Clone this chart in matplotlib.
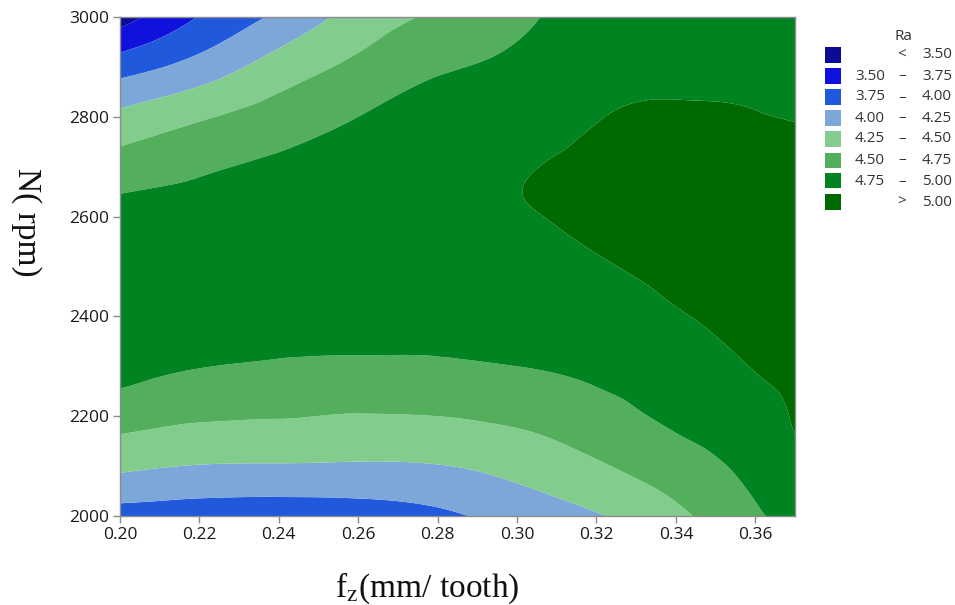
import numpy as np
import matplotlib
matplotlib.use("Agg")
import matplotlib.pyplot as plt
import matplotlib.tri as mtri
from matplotlib.patches import Rectangle

# feed per tooth (mm/tooth) and spindle speed (rpm)
fz = [0.20, 0.22, 0.24, 0.26, 0.28, 0.30, 0.32, 0.34, 0.36, 0.37]
rpm = [2000, 2100, 2200, 2300, 2400, 2500, 2600, 2700, 2800, 2900, 3000]

# surface roughness Ra, one row per rpm value
ra_2000 = [3.89, 3.86, 3.85, 3.88, 3.95, 4.09, 4.23, 4.44, 4.72, 4.82]
ra_2100 = [4.30, 4.24, 4.23, 4.22, 4.24, 4.33, 4.47, 4.64, 4.82, 4.94]
ra_2200 = [4.60, 4.53, 4.51, 4.49, 4.50, 4.55, 4.66, 4.79, 4.91, 5.02]
ra_2300 = [4.85, 4.76, 4.71, 4.69, 4.70, 4.75, 4.80, 4.88, 5.01, 5.05]
ra_2400 = [4.93, 4.94, 4.94, 4.93, 4.92, 4.89, 4.89, 4.98, 5.07, 5.10]
ra_2500 = [4.92, 4.93, 4.94, 4.94, 4.94, 4.94, 4.98, 5.06, 5.12, 5.14]
ra_2600 = [4.84, 4.87, 4.91, 4.94, 4.96, 4.985, 5.04, 5.10, 5.13, 5.14]
ra_2700 = [4.61, 4.71, 4.80, 4.88, 4.93, 4.98, 5.05, 5.09, 5.10, 5.10]
ra_2800 = [4.31, 4.47, 4.61, 4.75, 4.85, 4.88, 4.99, 5.03, 5.01, 4.99]
ra_2900 = [3.89, 4.10, 4.36, 4.56, 4.72, 4.80, 4.92, 4.94, 4.95, 4.95]
ra_3000 = [3.39, 3.76, 4.05, 4.35, 4.54, 4.70, 4.84, 4.85, 4.87, 4.88]

levels = [3.50, 3.75, 4.00, 4.25, 4.50, 4.75, 5.00]
colors = ["#0b0b96", "#1111dd", "#2159dd", "#7da7d9",
          "#82cc8e", "#53af5b", "#008321", "#006a00"]

W, H = 955, 605


def px(x, y):
    # pixel position -> figure fraction
    return x / W, 1 - y / H


def smooth_surface(x, y, z):
    # refine the grid on normalised coordinates so the bands come out smooth
    X, Y = np.meshgrid(x, y)
    u = (X - x[0]) / (x[-1] - x[0])
    v = (Y - y[0]) / (y[-1] - y[0])
    tri = mtri.Triangulation(u.ravel(), v.ravel())
    refiner = mtri.UniformTriRefiner(tri)
    interp = mtri.CubicTriInterpolator(tri, z.ravel(), kind="min_E")
    tri_f, z_f = refiner.refine_field(z.ravel(), triinterpolator=interp, subdiv=5)
    xs = x[0] + tri_f.x * (x[-1] - x[0])
    ys = y[0] + tri_f.y * (y[-1] - y[0])
    return mtri.Triangulation(xs, ys, triangles=tri_f.triangles), z_f


def main():
    plt.rcParams["mathtext.fontset"] = "stix"

    x = np.array(fz)
    y = np.array(rpm, dtype=float)
    z = np.array([ra_2000, ra_2100, ra_2200, ra_2300, ra_2400, ra_2500,
                  ra_2600, ra_2700, ra_2800, ra_2900, ra_3000])

    fig = plt.figure(figsize=(W / 100, H / 100), dpi=100)
    l, b = px(120, 516)
    r, t = px(795, 17)
    ax = fig.add_axes([l, b, r - l, t - b])

    tri, zf = smooth_surface(x, y, z)
    bounds = [0] + levels + [10]
    ax.tricontourf(tri, zf, levels=bounds, colors=colors, antialiased=True)

    ax.set_xlim(x[0], x[-1])
    ax.set_ylim(y[0], y[-1])
    ax.set_xticks(np.arange(0.20, 0.361, 0.02))
    ax.set_xticklabels([f"{v:.2f}" for v in np.arange(0.20, 0.361, 0.02)])
    ax.set_yticks(range(2000, 3001, 200))

    for s in ax.spines.values():
        s.set_color("#8c8c8c")
        s.set_linewidth(1.0)
    ax.tick_params(direction="out", length=5, width=1, color="#8c8c8c",
                   labelsize=12.5, labelcolor="#1a1a1a", pad=3)
    for lab in ax.get_xticklabels() + ax.get_yticklabels():
        lab.set_fontfamily("Open Sans")

    # axis titles
    fig.text(*px(427, 597), r"f$_{\mathrm{z}}$(mm/ tooth)", ha="center", va="baseline",
             fontsize=24, family="Liberation Serif", color="#111111")
    fig.text(*px(26, 222), "N( rpm)", ha="center", va="center", rotation=-90,
             fontsize=24, family="Liberation Serif", color="#111111")

    # legend of the contour bands
    txt = dict(fontsize=11, family="Open Sans", color="#333333", va="center")
    fig.text(*px(903, 37), "Ra", ha="center", **txt)
    labels = [("", "<", f"{levels[0]:.2f}")]
    for lo, hi in zip(levels[:-1], levels[1:]):
        labels.append((f"{lo:.2f}", "\u2013", f"{hi:.2f}"))
    labels.append(("", ">", f"{levels[-1]:.2f}"))
    for i, (c, (lo, mid, hi)) in enumerate(zip(colors, labels)):
        yc = 55 + 21 * i
        x0, y0 = px(825, yc + 7.5)
        fig.add_artist(Rectangle((x0, y0), 16 / W, 15 / H, transform=fig.transFigure,
                                 facecolor=c, edgecolor="none"))
        if lo:
            fig.text(*px(885, yc), lo, ha="right", **txt)
        fig.text(*px(902, yc), mid, ha="center", **txt)
        fig.text(*px(952, yc), hi, ha="right", **txt)

    fig.savefig("out.png", dpi=100)


if __name__ == "__main__":
    main()
